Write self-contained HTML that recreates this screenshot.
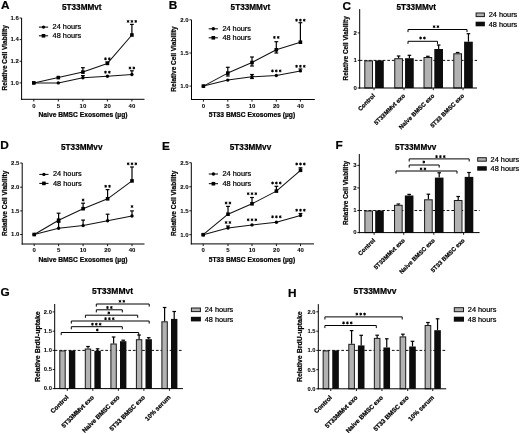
<!DOCTYPE html>
<html><head><meta charset="utf-8"><style>
html,body{margin:0;padding:0;background:#fff;}
svg{display:block;font-family:"Liberation Sans", sans-serif;will-change:transform;filter:blur(0.3px);}
</style></head><body>
<svg width="520" height="434" viewBox="0 0 520 434">
<rect width="520" height="434" fill="#fff"/>
<text x="0.9" y="8.7" font-size="11.8" font-weight="bold" text-anchor="start" fill="#000" stroke="#000" stroke-width="0.22">A</text>
<text x="81.8" y="10.4" font-size="8.2" font-weight="bold" text-anchor="middle" fill="#000" stroke="#000" stroke-width="0.22">5T33MMvt</text>
<line x1="21.6" y1="18.0" x2="21.6" y2="99.8" stroke="#000" stroke-width="1.0"/>
<line x1="21.1" y1="99.3" x2="144.5" y2="99.3" stroke="#000" stroke-width="1.0"/>
<line x1="19.6" y1="18.0" x2="21.6" y2="18.0" stroke="#000" stroke-width="0.9"/>
<text x="18.8" y="19.86" font-size="6.0" font-weight="bold" text-anchor="end" fill="#000" stroke="#000" stroke-width="0.05">1.6</text>
<line x1="19.6" y1="39.6" x2="21.6" y2="39.6" stroke="#000" stroke-width="0.9"/>
<text x="18.8" y="41.46" font-size="6.0" font-weight="bold" text-anchor="end" fill="#000" stroke="#000" stroke-width="0.05">1.4</text>
<line x1="19.6" y1="61.3" x2="21.6" y2="61.3" stroke="#000" stroke-width="0.9"/>
<text x="18.8" y="63.16" font-size="6.0" font-weight="bold" text-anchor="end" fill="#000" stroke="#000" stroke-width="0.05">1.2</text>
<line x1="19.6" y1="82.9" x2="21.6" y2="82.9" stroke="#000" stroke-width="0.9"/>
<text x="18.8" y="84.76" font-size="6.0" font-weight="bold" text-anchor="end" fill="#000" stroke="#000" stroke-width="0.05">1.0</text>
<line x1="33.8" y1="99.3" x2="33.8" y2="101.5" stroke="#000" stroke-width="0.9"/>
<text x="33.8" y="107.5" font-size="6.0" font-weight="bold" text-anchor="middle" fill="#000" stroke="#000" stroke-width="0.05">0</text>
<line x1="58.3" y1="99.3" x2="58.3" y2="101.5" stroke="#000" stroke-width="0.9"/>
<text x="58.3" y="107.5" font-size="6.0" font-weight="bold" text-anchor="middle" fill="#000" stroke="#000" stroke-width="0.05">5</text>
<line x1="82.9" y1="99.3" x2="82.9" y2="101.5" stroke="#000" stroke-width="0.9"/>
<text x="82.9" y="107.5" font-size="6.0" font-weight="bold" text-anchor="middle" fill="#000" stroke="#000" stroke-width="0.05">10</text>
<line x1="107.4" y1="99.3" x2="107.4" y2="101.5" stroke="#000" stroke-width="0.9"/>
<text x="107.4" y="107.5" font-size="6.0" font-weight="bold" text-anchor="middle" fill="#000" stroke="#000" stroke-width="0.05">20</text>
<line x1="131.9" y1="99.3" x2="131.9" y2="101.5" stroke="#000" stroke-width="0.9"/>
<text x="131.9" y="107.5" font-size="6.0" font-weight="bold" text-anchor="middle" fill="#000" stroke="#000" stroke-width="0.05">40</text>
<text x="83.0" y="116.6" font-size="6.7" font-weight="bold" text-anchor="middle" fill="#000" stroke="#000" stroke-width="0.22">Naive BMSC Exosomes (µg)</text>
<text x="6.6" y="57.8" font-size="6.5" font-weight="bold" text-anchor="middle" fill="#000" stroke="#000" stroke-width="0.22" transform="rotate(-90 6.6 57.8)">Relative Cell Viability</text>
<line x1="38.9" y1="27.1" x2="48.1" y2="27.1" stroke="#000" stroke-width="1.0"/>
<circle cx="43.5" cy="27.1" r="1.7" fill="#000"/>
<line x1="38.9" y1="35.8" x2="48.1" y2="35.8" stroke="#000" stroke-width="1.0"/>
<rect x="41.7" y="34.0" width="3.6" height="3.6" fill="#000"/>
<text x="52.6" y="29.1" font-size="7.35" font-weight="normal" text-anchor="start" fill="#000" stroke="#000" stroke-width="0.22">24 hours</text>
<text x="52.6" y="38.0" font-size="7.35" font-weight="normal" text-anchor="start" fill="#000" stroke="#000" stroke-width="0.22">48 hours</text>
<line x1="82.9" y1="72.1" x2="82.9" y2="67.7" stroke="#000" stroke-width="1.2"/>
<line x1="81.0" y1="67.7" x2="84.80000000000001" y2="67.7" stroke="#000" stroke-width="1.2"/>
<line x1="131.9" y1="35.0" x2="131.9" y2="24.4" stroke="#000" stroke-width="1.2"/>
<line x1="130.0" y1="24.4" x2="133.8" y2="24.4" stroke="#000" stroke-width="1.2"/>
<line x1="131.9" y1="74.5" x2="131.9" y2="70.8" stroke="#000" stroke-width="1.2"/>
<line x1="130.0" y1="70.8" x2="133.8" y2="70.8" stroke="#000" stroke-width="1.2"/>
<line x1="82.9" y1="77.8" x2="82.9" y2="75.6" stroke="#000" stroke-width="1.2"/>
<line x1="81.0" y1="75.6" x2="84.80000000000001" y2="75.6" stroke="#000" stroke-width="1.2"/>
<line x1="107.4" y1="63.4" x2="107.4" y2="62.0" stroke="#000" stroke-width="1.2"/>
<line x1="105.5" y1="62.0" x2="109.30000000000001" y2="62.0" stroke="#000" stroke-width="1.2"/>
<polyline points="33.8,82.9 58.3,82.9 82.9,77.8 107.4,76.3 131.9,74.5" fill="none" stroke="#111" stroke-width="1.05" stroke-linejoin="round"/>
<polyline points="33.8,82.9 58.3,77.6 82.9,72.1 107.4,63.4 131.9,35.0" fill="none" stroke="#111" stroke-width="1.05" stroke-linejoin="round"/>
<circle cx="33.8" cy="82.9" r="1.7" fill="#000"/>
<circle cx="58.3" cy="82.9" r="1.7" fill="#000"/>
<circle cx="82.9" cy="77.8" r="1.7" fill="#000"/>
<circle cx="107.4" cy="76.3" r="1.7" fill="#000"/>
<circle cx="131.9" cy="74.5" r="1.7" fill="#000"/>
<rect x="31.999999999999996" y="81.10000000000001" width="3.6" height="3.6" fill="#000"/>
<rect x="56.5" y="75.8" width="3.6" height="3.6" fill="#000"/>
<rect x="81.10000000000001" y="70.3" width="3.6" height="3.6" fill="#000"/>
<rect x="105.60000000000001" y="61.6" width="3.6" height="3.6" fill="#000"/>
<rect x="130.1" y="33.2" width="3.6" height="3.6" fill="#000"/>
<path d="M105.48,57.40L105.48,60.20M104.26,58.10L106.69,59.50M104.26,59.50L106.69,58.10M109.33,57.40L109.33,60.20M108.11,58.10L110.54,59.50M108.11,59.50L110.54,58.10" stroke="#000" stroke-width="1.0" fill="none"/>
<path d="M105.48,70.80L105.48,73.60M104.26,71.50L106.69,72.90M104.26,72.90L106.69,71.50M109.33,70.80L109.33,73.60M108.11,71.50L110.54,72.90M108.11,72.90L110.54,71.50" stroke="#000" stroke-width="1.0" fill="none"/>
<path d="M128.05,20.00L128.05,22.80M126.84,20.70L129.26,22.10M126.84,22.10L129.26,20.70M131.90,20.00L131.90,22.80M130.69,20.70L133.11,22.10M130.69,22.10L133.11,20.70M135.75,20.00L135.75,22.80M134.54,20.70L136.96,22.10M134.54,22.10L136.96,20.70" stroke="#000" stroke-width="1.0" fill="none"/>
<path d="M129.97,66.60L129.97,69.40M128.76,67.30L131.19,68.70M128.76,68.70L131.19,67.30M133.82,66.60L133.82,69.40M132.61,67.30L135.04,68.70M132.61,68.70L135.04,67.30" stroke="#000" stroke-width="1.0" fill="none"/>
<text x="168.8" y="9.0" font-size="11.8" font-weight="bold" text-anchor="start" fill="#000" stroke="#000" stroke-width="0.22">B</text>
<text x="250.4" y="10.0" font-size="8.2" font-weight="bold" text-anchor="middle" fill="#000" stroke="#000" stroke-width="0.22">5T33MMvt</text>
<line x1="191.5" y1="19.8" x2="191.5" y2="100.0" stroke="#000" stroke-width="1.0"/>
<line x1="191.0" y1="99.5" x2="314.8" y2="99.5" stroke="#000" stroke-width="1.0"/>
<line x1="189.5" y1="19.8" x2="191.5" y2="19.8" stroke="#000" stroke-width="0.9"/>
<text x="188.7" y="21.66" font-size="6.0" font-weight="bold" text-anchor="end" fill="#000" stroke="#000" stroke-width="0.05">2.0</text>
<line x1="189.5" y1="53.0" x2="191.5" y2="53.0" stroke="#000" stroke-width="0.9"/>
<text x="188.7" y="54.86" font-size="6.0" font-weight="bold" text-anchor="end" fill="#000" stroke="#000" stroke-width="0.05">1.5</text>
<line x1="189.5" y1="86.1" x2="191.5" y2="86.1" stroke="#000" stroke-width="0.9"/>
<text x="188.7" y="87.96" font-size="6.0" font-weight="bold" text-anchor="end" fill="#000" stroke="#000" stroke-width="0.05">1.0</text>
<line x1="203.4" y1="99.5" x2="203.4" y2="101.7" stroke="#000" stroke-width="0.9"/>
<text x="203.4" y="107.7" font-size="6.0" font-weight="bold" text-anchor="middle" fill="#000" stroke="#000" stroke-width="0.05">0</text>
<line x1="227.8" y1="99.5" x2="227.8" y2="101.7" stroke="#000" stroke-width="0.9"/>
<text x="227.8" y="107.7" font-size="6.0" font-weight="bold" text-anchor="middle" fill="#000" stroke="#000" stroke-width="0.05">5</text>
<line x1="252.0" y1="99.5" x2="252.0" y2="101.7" stroke="#000" stroke-width="0.9"/>
<text x="252.0" y="107.7" font-size="6.0" font-weight="bold" text-anchor="middle" fill="#000" stroke="#000" stroke-width="0.05">10</text>
<line x1="276.3" y1="99.5" x2="276.3" y2="101.7" stroke="#000" stroke-width="0.9"/>
<text x="276.3" y="107.7" font-size="6.0" font-weight="bold" text-anchor="middle" fill="#000" stroke="#000" stroke-width="0.05">20</text>
<line x1="300.4" y1="99.5" x2="300.4" y2="101.7" stroke="#000" stroke-width="0.9"/>
<text x="300.4" y="107.7" font-size="6.0" font-weight="bold" text-anchor="middle" fill="#000" stroke="#000" stroke-width="0.05">40</text>
<text x="252.0" y="116.8" font-size="6.7" font-weight="bold" text-anchor="middle" fill="#000" stroke="#000" stroke-width="0.22">5T33 BMSC Exosomes (µg)</text>
<text x="176.1" y="59.0" font-size="6.5" font-weight="bold" text-anchor="middle" fill="#000" stroke="#000" stroke-width="0.22" transform="rotate(-90 176.1 59.0)">Relative Cell Viability</text>
<line x1="208.70000000000002" y1="28.8" x2="217.9" y2="28.8" stroke="#000" stroke-width="1.0"/>
<circle cx="213.3" cy="28.8" r="1.7" fill="#000"/>
<line x1="208.70000000000002" y1="37.8" x2="217.9" y2="37.8" stroke="#000" stroke-width="1.0"/>
<rect x="211.5" y="36.0" width="3.6" height="3.6" fill="#000"/>
<text x="222.4" y="30.8" font-size="7.35" font-weight="normal" text-anchor="start" fill="#000" stroke="#000" stroke-width="0.22">24 hours</text>
<text x="222.4" y="40.0" font-size="7.35" font-weight="normal" text-anchor="start" fill="#000" stroke="#000" stroke-width="0.22">48 hours</text>
<line x1="227.8" y1="76.0" x2="227.8" y2="67.3" stroke="#000" stroke-width="1.2"/>
<line x1="225.9" y1="67.3" x2="229.70000000000002" y2="67.3" stroke="#000" stroke-width="1.2"/>
<line x1="225.9" y1="76.0" x2="229.70000000000002" y2="76.0" stroke="#000" stroke-width="1.2"/>
<line x1="252.0" y1="66.0" x2="252.0" y2="57.0" stroke="#000" stroke-width="1.2"/>
<line x1="250.1" y1="57.0" x2="253.9" y2="57.0" stroke="#000" stroke-width="1.2"/>
<line x1="250.1" y1="66.0" x2="253.9" y2="66.0" stroke="#000" stroke-width="1.2"/>
<line x1="276.3" y1="53.0" x2="276.3" y2="41.7" stroke="#000" stroke-width="1.2"/>
<line x1="274.40000000000003" y1="41.7" x2="278.2" y2="41.7" stroke="#000" stroke-width="1.2"/>
<line x1="274.40000000000003" y1="53.0" x2="278.2" y2="53.0" stroke="#000" stroke-width="1.2"/>
<line x1="300.4" y1="42.2" x2="300.4" y2="22.7" stroke="#000" stroke-width="1.2"/>
<line x1="298.5" y1="22.7" x2="302.29999999999995" y2="22.7" stroke="#000" stroke-width="1.2"/>
<line x1="252.0" y1="78.5" x2="252.0" y2="74.5" stroke="#000" stroke-width="1.2"/>
<line x1="250.1" y1="74.5" x2="253.9" y2="74.5" stroke="#000" stroke-width="1.2"/>
<line x1="250.1" y1="78.5" x2="253.9" y2="78.5" stroke="#000" stroke-width="1.2"/>
<line x1="300.4" y1="70.9" x2="300.4" y2="69.0" stroke="#000" stroke-width="1.2"/>
<line x1="298.5" y1="69.0" x2="302.29999999999995" y2="69.0" stroke="#000" stroke-width="1.2"/>
<polyline points="203.4,86.1 227.8,80.1 252.0,76.8 276.3,75.5 300.4,70.9" fill="none" stroke="#111" stroke-width="1.05" stroke-linejoin="round"/>
<polyline points="203.4,86.1 227.8,73.1 252.0,62.5 276.3,49.8 300.4,42.2" fill="none" stroke="#111" stroke-width="1.05" stroke-linejoin="round"/>
<circle cx="203.4" cy="86.1" r="1.7" fill="#000"/>
<circle cx="227.8" cy="80.1" r="1.7" fill="#000"/>
<circle cx="252.0" cy="76.8" r="1.7" fill="#000"/>
<circle cx="276.3" cy="75.5" r="1.7" fill="#000"/>
<circle cx="300.4" cy="70.9" r="1.7" fill="#000"/>
<rect x="201.6" y="84.3" width="3.6" height="3.6" fill="#000"/>
<rect x="226.0" y="71.3" width="3.6" height="3.6" fill="#000"/>
<rect x="250.2" y="60.7" width="3.6" height="3.6" fill="#000"/>
<rect x="274.5" y="48.0" width="3.6" height="3.6" fill="#000"/>
<rect x="298.59999999999997" y="40.400000000000006" width="3.6" height="3.6" fill="#000"/>
<path d="M274.38,36.00L274.38,38.80M273.16,36.70L275.59,38.10M273.16,38.10L275.59,36.70M278.23,36.00L278.23,38.80M277.01,36.70L279.44,38.10M277.01,38.10L279.44,36.70" stroke="#000" stroke-width="1.0" fill="none"/>
<path d="M296.55,18.80L296.55,21.60M295.34,19.50L297.76,20.90M295.34,20.90L297.76,19.50M300.40,18.80L300.40,21.60M299.19,19.50L301.61,20.90M299.19,20.90L301.61,19.50M304.25,18.80L304.25,21.60M303.04,19.50L305.46,20.90M303.04,20.90L305.46,19.50" stroke="#000" stroke-width="1.0" fill="none"/>
<path d="M272.45,69.50L272.45,72.30M271.24,70.20L273.66,71.60M271.24,71.60L273.66,70.20M276.30,69.50L276.30,72.30M275.09,70.20L277.51,71.60M275.09,71.60L277.51,70.20M280.15,69.50L280.15,72.30M278.94,70.20L281.36,71.60M278.94,71.60L281.36,70.20" stroke="#000" stroke-width="1.0" fill="none"/>
<path d="M296.55,64.90L296.55,67.70M295.34,65.60L297.76,67.00M295.34,67.00L297.76,65.60M300.40,64.90L300.40,67.70M299.19,65.60L301.61,67.00M299.19,67.00L301.61,65.60M304.25,64.90L304.25,67.70M303.04,65.60L305.46,67.00M303.04,67.00L305.46,65.60" stroke="#000" stroke-width="1.0" fill="none"/>
<text x="0.2" y="149.4" font-size="11.8" font-weight="bold" text-anchor="start" fill="#000" stroke="#000" stroke-width="0.22">D</text>
<text x="81.75" y="149.9" font-size="8.2" font-weight="bold" text-anchor="middle" fill="#000" stroke="#000" stroke-width="0.22">5T33MMvv</text>
<line x1="22.2" y1="163.0" x2="22.2" y2="244.5" stroke="#000" stroke-width="1.0"/>
<line x1="21.7" y1="244.0" x2="144.5" y2="244.0" stroke="#000" stroke-width="1.0"/>
<line x1="20.2" y1="163.0" x2="22.2" y2="163.0" stroke="#000" stroke-width="0.9"/>
<text x="19.4" y="164.86" font-size="6.0" font-weight="bold" text-anchor="end" fill="#000" stroke="#000" stroke-width="0.05">2.5</text>
<line x1="20.2" y1="187.2" x2="22.2" y2="187.2" stroke="#000" stroke-width="0.9"/>
<text x="19.4" y="189.06" font-size="6.0" font-weight="bold" text-anchor="end" fill="#000" stroke="#000" stroke-width="0.05">2.0</text>
<line x1="20.2" y1="210.9" x2="22.2" y2="210.9" stroke="#000" stroke-width="0.9"/>
<text x="19.4" y="212.76" font-size="6.0" font-weight="bold" text-anchor="end" fill="#000" stroke="#000" stroke-width="0.05">1.5</text>
<line x1="20.2" y1="234.5" x2="22.2" y2="234.5" stroke="#000" stroke-width="0.9"/>
<text x="19.4" y="236.36" font-size="6.0" font-weight="bold" text-anchor="end" fill="#000" stroke="#000" stroke-width="0.05">1.0</text>
<line x1="34.2" y1="244.0" x2="34.2" y2="246.2" stroke="#000" stroke-width="0.9"/>
<text x="34.2" y="252.2" font-size="6.0" font-weight="bold" text-anchor="middle" fill="#000" stroke="#000" stroke-width="0.05">0</text>
<line x1="58.6" y1="244.0" x2="58.6" y2="246.2" stroke="#000" stroke-width="0.9"/>
<text x="58.6" y="252.2" font-size="6.0" font-weight="bold" text-anchor="middle" fill="#000" stroke="#000" stroke-width="0.05">5</text>
<line x1="83.1" y1="244.0" x2="83.1" y2="246.2" stroke="#000" stroke-width="0.9"/>
<text x="83.1" y="252.2" font-size="6.0" font-weight="bold" text-anchor="middle" fill="#000" stroke="#000" stroke-width="0.05">10</text>
<line x1="107.6" y1="244.0" x2="107.6" y2="246.2" stroke="#000" stroke-width="0.9"/>
<text x="107.6" y="252.2" font-size="6.0" font-weight="bold" text-anchor="middle" fill="#000" stroke="#000" stroke-width="0.05">20</text>
<line x1="132.0" y1="244.0" x2="132.0" y2="246.2" stroke="#000" stroke-width="0.9"/>
<text x="132.0" y="252.2" font-size="6.0" font-weight="bold" text-anchor="middle" fill="#000" stroke="#000" stroke-width="0.05">40</text>
<text x="83.0" y="261.5" font-size="6.7" font-weight="bold" text-anchor="middle" fill="#000" stroke="#000" stroke-width="0.22">Naive BMSC Exosomes (µg)</text>
<text x="6.8" y="203.4" font-size="6.5" font-weight="bold" text-anchor="middle" fill="#000" stroke="#000" stroke-width="0.22" transform="rotate(-90 6.8 203.4)">Relative Cell Viability</text>
<line x1="39.3" y1="174.4" x2="48.5" y2="174.4" stroke="#000" stroke-width="1.0"/>
<circle cx="43.9" cy="174.4" r="1.7" fill="#000"/>
<line x1="39.3" y1="183.4" x2="48.5" y2="183.4" stroke="#000" stroke-width="1.0"/>
<rect x="42.1" y="181.6" width="3.6" height="3.6" fill="#000"/>
<text x="53.0" y="176.4" font-size="7.35" font-weight="normal" text-anchor="start" fill="#000" stroke="#000" stroke-width="0.22">24 hours</text>
<text x="53.0" y="185.6" font-size="7.35" font-weight="normal" text-anchor="start" fill="#000" stroke="#000" stroke-width="0.22">48 hours</text>
<line x1="58.6" y1="220.2" x2="58.6" y2="213.2" stroke="#000" stroke-width="1.2"/>
<line x1="56.7" y1="213.2" x2="60.5" y2="213.2" stroke="#000" stroke-width="1.2"/>
<line x1="83.1" y1="208.7" x2="83.1" y2="203.2" stroke="#000" stroke-width="1.2"/>
<line x1="81.19999999999999" y1="203.2" x2="85.0" y2="203.2" stroke="#000" stroke-width="1.2"/>
<line x1="107.6" y1="198.8" x2="107.6" y2="189.6" stroke="#000" stroke-width="1.2"/>
<line x1="105.69999999999999" y1="189.6" x2="109.5" y2="189.6" stroke="#000" stroke-width="1.2"/>
<line x1="132.0" y1="180.9" x2="132.0" y2="167.0" stroke="#000" stroke-width="1.2"/>
<line x1="130.1" y1="167.0" x2="133.9" y2="167.0" stroke="#000" stroke-width="1.2"/>
<line x1="58.6" y1="228.2" x2="58.6" y2="222.3" stroke="#000" stroke-width="1.2"/>
<line x1="56.7" y1="222.3" x2="60.5" y2="222.3" stroke="#000" stroke-width="1.2"/>
<line x1="83.1" y1="225.6" x2="83.1" y2="220.1" stroke="#000" stroke-width="1.2"/>
<line x1="81.19999999999999" y1="220.1" x2="85.0" y2="220.1" stroke="#000" stroke-width="1.2"/>
<line x1="107.6" y1="220.8" x2="107.6" y2="214.2" stroke="#000" stroke-width="1.2"/>
<line x1="105.69999999999999" y1="214.2" x2="109.5" y2="214.2" stroke="#000" stroke-width="1.2"/>
<line x1="132.0" y1="216.0" x2="132.0" y2="210.9" stroke="#000" stroke-width="1.2"/>
<line x1="130.1" y1="210.9" x2="133.9" y2="210.9" stroke="#000" stroke-width="1.2"/>
<polyline points="34.2,234.5 58.6,228.2 83.1,225.6 107.6,220.8 132.0,216.0" fill="none" stroke="#111" stroke-width="1.05" stroke-linejoin="round"/>
<polyline points="34.2,234.5 58.6,220.2 83.1,208.7 107.6,198.8 132.0,180.9" fill="none" stroke="#111" stroke-width="1.05" stroke-linejoin="round"/>
<circle cx="34.2" cy="234.5" r="1.7" fill="#000"/>
<circle cx="58.6" cy="228.2" r="1.7" fill="#000"/>
<circle cx="83.1" cy="225.6" r="1.7" fill="#000"/>
<circle cx="107.6" cy="220.8" r="1.7" fill="#000"/>
<circle cx="132.0" cy="216.0" r="1.7" fill="#000"/>
<rect x="32.400000000000006" y="232.7" width="3.6" height="3.6" fill="#000"/>
<rect x="56.800000000000004" y="218.39999999999998" width="3.6" height="3.6" fill="#000"/>
<rect x="81.3" y="206.89999999999998" width="3.6" height="3.6" fill="#000"/>
<rect x="105.8" y="197.0" width="3.6" height="3.6" fill="#000"/>
<rect x="130.2" y="179.1" width="3.6" height="3.6" fill="#000"/>
<path d="M83.10,198.60L83.10,201.40M81.89,199.30L84.31,200.70M81.89,200.70L84.31,199.30" stroke="#000" stroke-width="1.0" fill="none"/>
<path d="M105.67,184.90L105.67,187.70M104.46,185.60L106.89,187.00M104.46,187.00L106.89,185.60M109.52,184.90L109.52,187.70M108.31,185.60L110.74,187.00M108.31,187.00L110.74,185.60" stroke="#000" stroke-width="1.0" fill="none"/>
<path d="M128.15,162.40L128.15,165.20M126.94,163.10L129.36,164.50M126.94,164.50L129.36,163.10M132.00,162.40L132.00,165.20M130.79,163.10L133.21,164.50M130.79,164.50L133.21,163.10M135.85,162.40L135.85,165.20M134.64,163.10L137.06,164.50M134.64,164.50L137.06,163.10" stroke="#000" stroke-width="1.0" fill="none"/>
<path d="M132.00,205.10L132.00,207.90M130.79,205.80L133.21,207.20M130.79,207.20L133.21,205.80" stroke="#000" stroke-width="1.0" fill="none"/>
<text x="162.1" y="149.8" font-size="11.8" font-weight="bold" text-anchor="start" fill="#000" stroke="#000" stroke-width="0.22">E</text>
<text x="250.5" y="149.9" font-size="8.2" font-weight="bold" text-anchor="middle" fill="#000" stroke="#000" stroke-width="0.22">5T33MMvv</text>
<line x1="191.3" y1="162.7" x2="191.3" y2="244.4" stroke="#000" stroke-width="1.0"/>
<line x1="190.8" y1="243.9" x2="314.0" y2="243.9" stroke="#000" stroke-width="1.0"/>
<line x1="189.3" y1="162.7" x2="191.3" y2="162.7" stroke="#000" stroke-width="0.9"/>
<text x="188.5" y="164.56" font-size="6.0" font-weight="bold" text-anchor="end" fill="#000" stroke="#000" stroke-width="0.05">2.5</text>
<line x1="189.3" y1="186.8" x2="191.3" y2="186.8" stroke="#000" stroke-width="0.9"/>
<text x="188.5" y="188.66" font-size="6.0" font-weight="bold" text-anchor="end" fill="#000" stroke="#000" stroke-width="0.05">2.0</text>
<line x1="189.3" y1="210.8" x2="191.3" y2="210.8" stroke="#000" stroke-width="0.9"/>
<text x="188.5" y="212.66" font-size="6.0" font-weight="bold" text-anchor="end" fill="#000" stroke="#000" stroke-width="0.05">1.5</text>
<line x1="189.3" y1="234.7" x2="191.3" y2="234.7" stroke="#000" stroke-width="0.9"/>
<text x="188.5" y="236.56" font-size="6.0" font-weight="bold" text-anchor="end" fill="#000" stroke="#000" stroke-width="0.05">1.0</text>
<line x1="203.2" y1="243.9" x2="203.2" y2="246.1" stroke="#000" stroke-width="0.9"/>
<text x="203.2" y="252.2" font-size="6.0" font-weight="bold" text-anchor="middle" fill="#000" stroke="#000" stroke-width="0.05">0</text>
<line x1="228.0" y1="243.9" x2="228.0" y2="246.1" stroke="#000" stroke-width="0.9"/>
<text x="228.0" y="252.2" font-size="6.0" font-weight="bold" text-anchor="middle" fill="#000" stroke="#000" stroke-width="0.05">5</text>
<line x1="252.0" y1="243.9" x2="252.0" y2="246.1" stroke="#000" stroke-width="0.9"/>
<text x="252.0" y="252.2" font-size="6.0" font-weight="bold" text-anchor="middle" fill="#000" stroke="#000" stroke-width="0.05">10</text>
<line x1="276.4" y1="243.9" x2="276.4" y2="246.1" stroke="#000" stroke-width="0.9"/>
<text x="276.4" y="252.2" font-size="6.0" font-weight="bold" text-anchor="middle" fill="#000" stroke="#000" stroke-width="0.05">20</text>
<line x1="300.5" y1="243.9" x2="300.5" y2="246.1" stroke="#000" stroke-width="0.9"/>
<text x="300.5" y="252.2" font-size="6.0" font-weight="bold" text-anchor="middle" fill="#000" stroke="#000" stroke-width="0.05">40</text>
<text x="252.0" y="261.5" font-size="6.7" font-weight="bold" text-anchor="middle" fill="#000" stroke="#000" stroke-width="0.22">5T33 BMSC Exosomes (µg)</text>
<text x="176.0" y="203.3" font-size="6.5" font-weight="bold" text-anchor="middle" fill="#000" stroke="#000" stroke-width="0.22" transform="rotate(-90 176.0 203.3)">Relative Cell Viability</text>
<line x1="208.8" y1="174.0" x2="218.0" y2="174.0" stroke="#000" stroke-width="1.0"/>
<circle cx="213.4" cy="174.0" r="1.7" fill="#000"/>
<line x1="208.8" y1="183.7" x2="218.0" y2="183.7" stroke="#000" stroke-width="1.0"/>
<rect x="211.6" y="181.89999999999998" width="3.6" height="3.6" fill="#000"/>
<text x="222.5" y="176.0" font-size="7.35" font-weight="normal" text-anchor="start" fill="#000" stroke="#000" stroke-width="0.22">24 hours</text>
<text x="222.5" y="185.89999999999998" font-size="7.35" font-weight="normal" text-anchor="start" fill="#000" stroke="#000" stroke-width="0.22">48 hours</text>
<line x1="228.0" y1="214.2" x2="228.0" y2="206.4" stroke="#000" stroke-width="1.2"/>
<line x1="226.1" y1="206.4" x2="229.9" y2="206.4" stroke="#000" stroke-width="1.2"/>
<line x1="252.0" y1="203.8" x2="252.0" y2="197.5" stroke="#000" stroke-width="1.2"/>
<line x1="250.1" y1="197.5" x2="253.9" y2="197.5" stroke="#000" stroke-width="1.2"/>
<line x1="276.4" y1="191.1" x2="276.4" y2="186.3" stroke="#000" stroke-width="1.2"/>
<line x1="274.5" y1="186.3" x2="278.29999999999995" y2="186.3" stroke="#000" stroke-width="1.2"/>
<line x1="300.5" y1="170.3" x2="300.5" y2="167.8" stroke="#000" stroke-width="1.2"/>
<line x1="298.6" y1="167.8" x2="302.4" y2="167.8" stroke="#000" stroke-width="1.2"/>
<line x1="228.0" y1="228.0" x2="228.0" y2="226.0" stroke="#000" stroke-width="1.2"/>
<line x1="226.1" y1="226.0" x2="229.9" y2="226.0" stroke="#000" stroke-width="1.2"/>
<line x1="300.5" y1="215.5" x2="300.5" y2="213.5" stroke="#000" stroke-width="1.2"/>
<line x1="298.6" y1="213.5" x2="302.4" y2="213.5" stroke="#000" stroke-width="1.2"/>
<polyline points="203.2,234.7 228.0,228.0 252.0,224.9 276.4,222.3 300.5,215.5" fill="none" stroke="#111" stroke-width="1.05" stroke-linejoin="round"/>
<polyline points="203.2,234.7 228.0,214.2 252.0,203.8 276.4,191.1 300.5,170.3" fill="none" stroke="#111" stroke-width="1.05" stroke-linejoin="round"/>
<circle cx="203.2" cy="234.7" r="1.7" fill="#000"/>
<circle cx="228.0" cy="228.0" r="1.7" fill="#000"/>
<circle cx="252.0" cy="224.9" r="1.7" fill="#000"/>
<circle cx="276.4" cy="222.3" r="1.7" fill="#000"/>
<circle cx="300.5" cy="215.5" r="1.7" fill="#000"/>
<rect x="201.39999999999998" y="232.89999999999998" width="3.6" height="3.6" fill="#000"/>
<rect x="226.2" y="212.39999999999998" width="3.6" height="3.6" fill="#000"/>
<rect x="250.2" y="202.0" width="3.6" height="3.6" fill="#000"/>
<rect x="274.59999999999997" y="189.29999999999998" width="3.6" height="3.6" fill="#000"/>
<rect x="298.7" y="168.5" width="3.6" height="3.6" fill="#000"/>
<path d="M226.07,201.60L226.07,204.40M224.86,202.30L227.29,203.70M224.86,203.70L227.29,202.30M229.92,201.60L229.92,204.40M228.71,202.30L231.14,203.70M228.71,203.70L231.14,202.30" stroke="#000" stroke-width="1.0" fill="none"/>
<path d="M226.07,221.10L226.07,223.90M224.86,221.80L227.29,223.20M224.86,223.20L227.29,221.80M229.92,221.10L229.92,223.90M228.71,221.80L231.14,223.20M228.71,223.20L231.14,221.80" stroke="#000" stroke-width="1.0" fill="none"/>
<path d="M248.15,192.30L248.15,195.10M246.94,193.00L249.36,194.40M246.94,194.40L249.36,193.00M252.00,192.30L252.00,195.10M250.79,193.00L253.21,194.40M250.79,194.40L253.21,193.00M255.85,192.30L255.85,195.10M254.64,193.00L257.06,194.40M254.64,194.40L257.06,193.00" stroke="#000" stroke-width="1.0" fill="none"/>
<path d="M248.15,218.40L248.15,221.20M246.94,219.10L249.36,220.50M246.94,220.50L249.36,219.10M252.00,218.40L252.00,221.20M250.79,219.10L253.21,220.50M250.79,220.50L253.21,219.10M255.85,218.40L255.85,221.20M254.64,219.10L257.06,220.50M254.64,220.50L257.06,219.10" stroke="#000" stroke-width="1.0" fill="none"/>
<path d="M272.55,181.60L272.55,184.40M271.34,182.30L273.76,183.70M271.34,183.70L273.76,182.30M276.40,181.60L276.40,184.40M275.19,182.30L277.61,183.70M275.19,183.70L277.61,182.30M280.25,181.60L280.25,184.40M279.04,182.30L281.46,183.70M279.04,183.70L281.46,182.30" stroke="#000" stroke-width="1.0" fill="none"/>
<path d="M272.55,215.40L272.55,218.20M271.34,216.10L273.76,217.50M271.34,217.50L273.76,216.10M276.40,215.40L276.40,218.20M275.19,216.10L277.61,217.50M275.19,217.50L277.61,216.10M280.25,215.40L280.25,218.20M279.04,216.10L281.46,217.50M279.04,217.50L281.46,216.10" stroke="#000" stroke-width="1.0" fill="none"/>
<path d="M296.65,162.60L296.65,165.40M295.44,163.30L297.86,164.70M295.44,164.70L297.86,163.30M300.50,162.60L300.50,165.40M299.29,163.30L301.71,164.70M299.29,164.70L301.71,163.30M304.35,162.60L304.35,165.40M303.14,163.30L305.56,164.70M303.14,164.70L305.56,163.30" stroke="#000" stroke-width="1.0" fill="none"/>
<path d="M296.65,208.80L296.65,211.60M295.44,209.50L297.86,210.90M295.44,210.90L297.86,209.50M300.50,208.80L300.50,211.60M299.29,209.50L301.71,210.90M299.29,210.90L301.71,209.50M304.35,208.80L304.35,211.60M303.14,209.50L305.56,210.90M303.14,210.90L305.56,209.50" stroke="#000" stroke-width="1.0" fill="none"/>
<text x="342.4" y="9.5" font-size="11.8" font-weight="bold" text-anchor="start" fill="#000" stroke="#000" stroke-width="0.22">C</text>
<text x="416.3" y="10.4" font-size="8.2" font-weight="bold" text-anchor="middle" fill="#000" stroke="#000" stroke-width="0.22">5T33MMvt</text>
<line x1="359.7" y1="60.4" x2="477.0" y2="60.4" stroke="#111" stroke-width="1.0" stroke-dasharray="2.7,1.9"/>
<rect x="364.8" y="60.9" width="7.699999999999989" height="27.1" fill="#b2b2b2" stroke="#1a1a1a" stroke-width="1"/>
<rect x="375.1" y="60.4" width="8.699999999999989" height="27.6" fill="#0d0d0d"/>
<line x1="398.59999999999997" y1="58.2" x2="398.59999999999997" y2="56.0" stroke="#000" stroke-width="1.2"/>
<line x1="396.79999999999995" y1="56.0" x2="400.4" y2="56.0" stroke="#000" stroke-width="1.2"/>
<line x1="409.40000000000003" y1="58.2" x2="409.40000000000003" y2="55.3" stroke="#000" stroke-width="1.2"/>
<line x1="407.6" y1="55.3" x2="411.20000000000005" y2="55.3" stroke="#000" stroke-width="1.2"/>
<rect x="394.75" y="58.7" width="7.699999999999989" height="29.299999999999997" fill="#b2b2b2" stroke="#1a1a1a" stroke-width="1"/>
<rect x="405.05" y="58.2" width="8.699999999999989" height="29.799999999999997" fill="#0d0d0d"/>
<line x1="427.84999999999997" y1="57.0" x2="427.84999999999997" y2="56.3" stroke="#000" stroke-width="1.2"/>
<line x1="426.04999999999995" y1="56.3" x2="429.65" y2="56.3" stroke="#000" stroke-width="1.2"/>
<line x1="438.65000000000003" y1="49.0" x2="438.65000000000003" y2="45.0" stroke="#000" stroke-width="1.2"/>
<line x1="436.85" y1="45.0" x2="440.45000000000005" y2="45.0" stroke="#000" stroke-width="1.2"/>
<rect x="424.0" y="57.5" width="7.699999999999989" height="30.5" fill="#b2b2b2" stroke="#1a1a1a" stroke-width="1"/>
<rect x="434.3" y="49.0" width="8.699999999999989" height="39.0" fill="#0d0d0d"/>
<line x1="457.65" y1="53.3" x2="457.65" y2="52.5" stroke="#000" stroke-width="1.2"/>
<line x1="455.84999999999997" y1="52.5" x2="459.45" y2="52.5" stroke="#000" stroke-width="1.2"/>
<line x1="468.45000000000005" y1="41.7" x2="468.45000000000005" y2="33.7" stroke="#000" stroke-width="1.2"/>
<line x1="466.65000000000003" y1="33.7" x2="470.25000000000006" y2="33.7" stroke="#000" stroke-width="1.2"/>
<rect x="453.8" y="53.8" width="7.699999999999989" height="34.2" fill="#b2b2b2" stroke="#1a1a1a" stroke-width="1"/>
<rect x="464.1" y="41.7" width="8.699999999999989" height="46.3" fill="#0d0d0d"/>
<line x1="359.7" y1="9.1" x2="359.7" y2="88.5" stroke="#000" stroke-width="1.0"/>
<line x1="359.2" y1="88.0" x2="477.0" y2="88.0" stroke="#000" stroke-width="1.0"/>
<line x1="357.7" y1="88.0" x2="359.7" y2="88.0" stroke="#000" stroke-width="0.9"/>
<text x="356.9" y="89.86" font-size="6.0" font-weight="bold" text-anchor="end" fill="#000" stroke="#000" stroke-width="0.05">0</text>
<line x1="357.7" y1="60.4" x2="359.7" y2="60.4" stroke="#000" stroke-width="0.9"/>
<text x="356.9" y="62.26" font-size="6.0" font-weight="bold" text-anchor="end" fill="#000" stroke="#000" stroke-width="0.05">1</text>
<line x1="357.7" y1="32.9" x2="359.7" y2="32.9" stroke="#000" stroke-width="0.9"/>
<text x="356.9" y="34.76" font-size="6.0" font-weight="bold" text-anchor="end" fill="#000" stroke="#000" stroke-width="0.05">2</text>
<line x1="374.05" y1="88.0" x2="374.05" y2="90.2" stroke="#000" stroke-width="0.9"/>
<line x1="404.0" y1="88.0" x2="404.0" y2="90.2" stroke="#000" stroke-width="0.9"/>
<line x1="433.25" y1="88.0" x2="433.25" y2="90.2" stroke="#000" stroke-width="0.9"/>
<line x1="463.05" y1="88.0" x2="463.05" y2="90.2" stroke="#000" stroke-width="0.9"/>
<text x="375.55" y="96.2" font-size="6.0" font-weight="bold" text-anchor="end" fill="#000" stroke="#000" stroke-width="0.22" transform="rotate(-45 375.55 96.2)">Control</text>
<text x="405.5" y="96.2" font-size="6.0" font-weight="bold" text-anchor="end" fill="#000" stroke="#000" stroke-width="0.22" transform="rotate(-45 405.5 96.2)">5T33MMvt exo</text>
<text x="434.75" y="96.2" font-size="6.0" font-weight="bold" text-anchor="end" fill="#000" stroke="#000" stroke-width="0.22" transform="rotate(-45 434.75 96.2)">Naive BMSC exo</text>
<text x="464.55" y="96.2" font-size="6.0" font-weight="bold" text-anchor="end" fill="#000" stroke="#000" stroke-width="0.22" transform="rotate(-45 464.55 96.2)">5T33 BMSC exo</text>
<text x="348.0" y="48.3" font-size="6.4" font-weight="bold" text-anchor="middle" fill="#000" stroke="#000" stroke-width="0.22" transform="rotate(-90 348.0 48.3)">Relative Cell Viability</text>
<polyline points="408.0,43.9 408.0,41.3 437.5,41.3 437.5,43.9" fill="none" stroke="#000" stroke-width="1"/>
<path d="M420.57,36.60L420.57,39.40M419.36,37.30L421.79,38.70M419.36,38.70L421.79,37.30M424.43,36.60L424.43,39.40M423.21,37.30L425.64,38.70M423.21,38.70L425.64,37.30" stroke="#000" stroke-width="1.0" fill="none"/>
<polyline points="408.0,32.1 408.0,29.5 467.0,29.5 467.0,32.1" fill="none" stroke="#000" stroke-width="1"/>
<path d="M434.07,25.30L434.07,28.10M432.86,26.00L435.29,27.40M432.86,27.40L435.29,26.00M437.93,25.30L437.93,28.10M436.71,26.00L439.14,27.40M436.71,27.40L439.14,26.00" stroke="#000" stroke-width="1.0" fill="none"/>
<rect x="476.1" y="13.0" width="8.3" height="3.5999999999999996" fill="#b2b2b2" stroke="#1a1a1a" stroke-width="1"/>
<rect x="475.6" y="21.7" width="9.3" height="4.6" fill="#0d0d0d"/>
<text x="488.70000000000005" y="17.3" font-size="7.35" font-weight="normal" text-anchor="start" fill="#000" stroke="#000" stroke-width="0.22">24 hours</text>
<text x="488.70000000000005" y="26.499999999999996" font-size="7.35" font-weight="normal" text-anchor="start" fill="#000" stroke="#000" stroke-width="0.22">48 hours</text>
<text x="335.4" y="149.4" font-size="11.8" font-weight="bold" text-anchor="start" fill="#000" stroke="#000" stroke-width="0.22">F</text>
<text x="415.65" y="149.9" font-size="8.2" font-weight="bold" text-anchor="middle" fill="#000" stroke="#000" stroke-width="0.22">5T33MMvv</text>
<line x1="359.3" y1="210.5" x2="479.6" y2="210.5" stroke="#111" stroke-width="1.0" stroke-dasharray="2.7,1.9"/>
<rect x="364.9" y="211.0" width="7.600000000000023" height="21.599999999999994" fill="#b2b2b2" stroke="#1a1a1a" stroke-width="1"/>
<rect x="375.20000000000005" y="210.5" width="8.600000000000023" height="22.099999999999994" fill="#0d0d0d"/>
<line x1="398.34999999999997" y1="204.8" x2="398.34999999999997" y2="204.0" stroke="#000" stroke-width="1.2"/>
<line x1="396.54999999999995" y1="204.0" x2="400.15" y2="204.0" stroke="#000" stroke-width="1.2"/>
<line x1="409.15000000000003" y1="195.5" x2="409.15000000000003" y2="194.4" stroke="#000" stroke-width="1.2"/>
<line x1="407.35" y1="194.4" x2="410.95000000000005" y2="194.4" stroke="#000" stroke-width="1.2"/>
<rect x="394.54999999999995" y="205.3" width="7.600000000000023" height="27.299999999999983" fill="#b2b2b2" stroke="#1a1a1a" stroke-width="1"/>
<rect x="404.85" y="195.5" width="8.600000000000023" height="37.099999999999994" fill="#0d0d0d"/>
<line x1="428.4" y1="199.3" x2="428.4" y2="194.2" stroke="#000" stroke-width="1.2"/>
<line x1="426.59999999999997" y1="194.2" x2="430.2" y2="194.2" stroke="#000" stroke-width="1.2"/>
<line x1="439.20000000000005" y1="177.6" x2="439.20000000000005" y2="172.8" stroke="#000" stroke-width="1.2"/>
<line x1="437.40000000000003" y1="172.8" x2="441.00000000000006" y2="172.8" stroke="#000" stroke-width="1.2"/>
<rect x="424.59999999999997" y="199.8" width="7.600000000000023" height="32.79999999999998" fill="#b2b2b2" stroke="#1a1a1a" stroke-width="1"/>
<rect x="434.90000000000003" y="177.6" width="8.600000000000023" height="55.0" fill="#0d0d0d"/>
<line x1="458.2" y1="200.0" x2="458.2" y2="196.5" stroke="#000" stroke-width="1.2"/>
<line x1="456.4" y1="196.5" x2="460.0" y2="196.5" stroke="#000" stroke-width="1.2"/>
<line x1="469.00000000000006" y1="176.9" x2="469.00000000000006" y2="172.5" stroke="#000" stroke-width="1.2"/>
<line x1="467.20000000000005" y1="172.5" x2="470.80000000000007" y2="172.5" stroke="#000" stroke-width="1.2"/>
<rect x="454.4" y="200.5" width="7.600000000000023" height="32.099999999999994" fill="#b2b2b2" stroke="#1a1a1a" stroke-width="1"/>
<rect x="464.70000000000005" y="176.9" width="8.600000000000023" height="55.69999999999999" fill="#0d0d0d"/>
<line x1="359.3" y1="154.0" x2="359.3" y2="233.1" stroke="#000" stroke-width="1.0"/>
<line x1="358.8" y1="232.6" x2="479.6" y2="232.6" stroke="#000" stroke-width="1.0"/>
<line x1="357.3" y1="232.6" x2="359.3" y2="232.6" stroke="#000" stroke-width="0.9"/>
<text x="356.5" y="234.46" font-size="6.0" font-weight="bold" text-anchor="end" fill="#000" stroke="#000" stroke-width="0.05">0</text>
<line x1="357.3" y1="210.5" x2="359.3" y2="210.5" stroke="#000" stroke-width="0.9"/>
<text x="356.5" y="212.36" font-size="6.0" font-weight="bold" text-anchor="end" fill="#000" stroke="#000" stroke-width="0.05">1</text>
<line x1="357.3" y1="187.9" x2="359.3" y2="187.9" stroke="#000" stroke-width="0.9"/>
<text x="356.5" y="189.76" font-size="6.0" font-weight="bold" text-anchor="end" fill="#000" stroke="#000" stroke-width="0.05">2</text>
<line x1="357.3" y1="165.4" x2="359.3" y2="165.4" stroke="#000" stroke-width="0.9"/>
<text x="356.5" y="167.26" font-size="6.0" font-weight="bold" text-anchor="end" fill="#000" stroke="#000" stroke-width="0.05">3</text>
<line x1="374.1" y1="232.6" x2="374.1" y2="234.79999999999998" stroke="#000" stroke-width="0.9"/>
<line x1="403.75" y1="232.6" x2="403.75" y2="234.79999999999998" stroke="#000" stroke-width="0.9"/>
<line x1="433.8" y1="232.6" x2="433.8" y2="234.79999999999998" stroke="#000" stroke-width="0.9"/>
<line x1="463.6" y1="232.6" x2="463.6" y2="234.79999999999998" stroke="#000" stroke-width="0.9"/>
<text x="375.6" y="240.79999999999998" font-size="6.0" font-weight="bold" text-anchor="end" fill="#000" stroke="#000" stroke-width="0.22" transform="rotate(-45 375.6 240.79999999999998)">Control</text>
<text x="405.25" y="240.79999999999998" font-size="6.0" font-weight="bold" text-anchor="end" fill="#000" stroke="#000" stroke-width="0.22" transform="rotate(-45 405.25 240.79999999999998)">5T33MMvt exo</text>
<text x="435.3" y="240.79999999999998" font-size="6.0" font-weight="bold" text-anchor="end" fill="#000" stroke="#000" stroke-width="0.22" transform="rotate(-45 435.3 240.79999999999998)">Naive BMSC exo</text>
<text x="465.1" y="240.79999999999998" font-size="6.0" font-weight="bold" text-anchor="end" fill="#000" stroke="#000" stroke-width="0.22" transform="rotate(-45 465.1 240.79999999999998)">5T33 BMSC exo</text>
<text x="348.0" y="193.0" font-size="6.4" font-weight="bold" text-anchor="middle" fill="#000" stroke="#000" stroke-width="0.22" transform="rotate(-90 348.0 193.0)">Relative Cell Viability</text>
<polyline points="409.2,161.5 409.2,158.9 469.2,158.9 469.2,161.5" fill="none" stroke="#000" stroke-width="1"/>
<path d="M436.55,155.20L436.55,158.00M435.34,155.90L437.76,157.30M435.34,157.30L437.76,155.90M440.40,155.20L440.40,158.00M439.19,155.90L441.61,157.30M439.19,157.30L441.61,155.90M444.25,155.20L444.25,158.00M443.04,155.90L445.46,157.30M443.04,157.30L445.46,155.90" stroke="#000" stroke-width="1.0" fill="none"/>
<polyline points="409.2,167.6 409.2,165.0 439.2,165.0 439.2,167.6" fill="none" stroke="#000" stroke-width="1"/>
<path d="M423.80,160.60L423.80,163.40M422.59,161.30L425.01,162.70M422.59,162.70L425.01,161.30" stroke="#000" stroke-width="1.0" fill="none"/>
<polyline points="396.0,173.6 396.0,171.0 457.0,171.0 457.0,173.6" fill="none" stroke="#000" stroke-width="1"/>
<path d="M421.07,167.50L421.07,170.30M419.86,168.20L422.29,169.60M419.86,169.60L422.29,168.20M424.93,167.50L424.93,170.30M423.71,168.20L426.14,169.60M423.71,169.60L426.14,168.20" stroke="#000" stroke-width="1.0" fill="none"/>
<rect x="477.7" y="157.7" width="8.6" height="3.5" fill="#b2b2b2" stroke="#1a1a1a" stroke-width="1"/>
<rect x="477.2" y="166.2" width="9.6" height="4.5" fill="#0d0d0d"/>
<text x="490.6" y="161.89999999999998" font-size="7.35" font-weight="normal" text-anchor="start" fill="#000" stroke="#000" stroke-width="0.22">24 hours</text>
<text x="490.6" y="170.89999999999998" font-size="7.35" font-weight="normal" text-anchor="start" fill="#000" stroke="#000" stroke-width="0.22">48 hours</text>
<text x="0.5" y="296.4" font-size="11.8" font-weight="bold" text-anchor="start" fill="#000" stroke="#000" stroke-width="0.22">G</text>
<text x="112.5" y="294.0" font-size="8.5" font-weight="bold" text-anchor="middle" fill="#000" stroke="#000" stroke-width="0.22">5T33MMvt</text>
<line x1="54.7" y1="350.4" x2="182.9" y2="350.4" stroke="#111" stroke-width="1.0" stroke-dasharray="2.7,1.9"/>
<rect x="59.800000000000004" y="350.9" width="5.399999999999999" height="37.700000000000045" fill="#b2b2b2" stroke="#1a1a1a" stroke-width="1"/>
<rect x="68.89999999999999" y="350.4" width="6.400000000000006" height="38.200000000000045" fill="#0d0d0d"/>
<line x1="88.0" y1="348.5" x2="88.0" y2="346.5" stroke="#000" stroke-width="1.2"/>
<line x1="86.2" y1="346.5" x2="89.8" y2="346.5" stroke="#000" stroke-width="1.2"/>
<line x1="97.6" y1="350.8" x2="97.6" y2="348.8" stroke="#000" stroke-width="1.2"/>
<line x1="95.8" y1="348.8" x2="99.39999999999999" y2="348.8" stroke="#000" stroke-width="1.2"/>
<rect x="85.3" y="349.0" width="5.400000000000006" height="39.60000000000002" fill="#b2b2b2" stroke="#1a1a1a" stroke-width="1"/>
<rect x="94.39999999999999" y="350.8" width="6.400000000000006" height="37.80000000000001" fill="#0d0d0d"/>
<line x1="113.60000000000001" y1="343.5" x2="113.60000000000001" y2="337.0" stroke="#000" stroke-width="1.2"/>
<line x1="111.80000000000001" y1="337.0" x2="115.4" y2="337.0" stroke="#000" stroke-width="1.2"/>
<line x1="123.2" y1="341.2" x2="123.2" y2="340.2" stroke="#000" stroke-width="1.2"/>
<line x1="121.4" y1="340.2" x2="125.0" y2="340.2" stroke="#000" stroke-width="1.2"/>
<rect x="110.9" y="344.0" width="5.400000000000006" height="44.60000000000002" fill="#b2b2b2" stroke="#1a1a1a" stroke-width="1"/>
<rect x="120.0" y="341.2" width="6.400000000000006" height="47.400000000000034" fill="#0d0d0d"/>
<line x1="139.10000000000002" y1="339.2" x2="139.10000000000002" y2="335.0" stroke="#000" stroke-width="1.2"/>
<line x1="137.3" y1="335.0" x2="140.90000000000003" y2="335.0" stroke="#000" stroke-width="1.2"/>
<line x1="148.7" y1="339.2" x2="148.7" y2="337.7" stroke="#000" stroke-width="1.2"/>
<line x1="146.89999999999998" y1="337.7" x2="150.5" y2="337.7" stroke="#000" stroke-width="1.2"/>
<rect x="136.4" y="339.7" width="5.400000000000006" height="48.900000000000034" fill="#b2b2b2" stroke="#1a1a1a" stroke-width="1"/>
<rect x="145.5" y="339.2" width="6.400000000000006" height="49.400000000000034" fill="#0d0d0d"/>
<line x1="164.60000000000002" y1="321.3" x2="164.60000000000002" y2="307.5" stroke="#000" stroke-width="1.2"/>
<line x1="162.8" y1="307.5" x2="166.40000000000003" y2="307.5" stroke="#000" stroke-width="1.2"/>
<line x1="174.2" y1="318.9" x2="174.2" y2="311.5" stroke="#000" stroke-width="1.2"/>
<line x1="172.39999999999998" y1="311.5" x2="176.0" y2="311.5" stroke="#000" stroke-width="1.2"/>
<rect x="161.9" y="321.8" width="5.400000000000006" height="66.80000000000001" fill="#b2b2b2" stroke="#1a1a1a" stroke-width="1"/>
<rect x="171.0" y="318.9" width="6.400000000000006" height="69.70000000000005" fill="#0d0d0d"/>
<line x1="54.7" y1="304.0" x2="54.7" y2="389.1" stroke="#000" stroke-width="1.0"/>
<line x1="54.2" y1="388.6" x2="182.9" y2="388.6" stroke="#000" stroke-width="1.0"/>
<line x1="52.7" y1="388.6" x2="54.7" y2="388.6" stroke="#000" stroke-width="0.9"/>
<text x="51.900000000000006" y="390.4" font-size="5.8" font-weight="bold" text-anchor="end" fill="#000" stroke="#000" stroke-width="0.05">0.0</text>
<line x1="52.7" y1="369.5" x2="54.7" y2="369.5" stroke="#000" stroke-width="0.9"/>
<text x="51.900000000000006" y="371.3" font-size="5.8" font-weight="bold" text-anchor="end" fill="#000" stroke="#000" stroke-width="0.05">0.5</text>
<line x1="52.7" y1="350.4" x2="54.7" y2="350.4" stroke="#000" stroke-width="0.9"/>
<text x="51.900000000000006" y="352.2" font-size="5.8" font-weight="bold" text-anchor="end" fill="#000" stroke="#000" stroke-width="0.05">1.0</text>
<line x1="52.7" y1="331.2" x2="54.7" y2="331.2" stroke="#000" stroke-width="0.9"/>
<text x="51.900000000000006" y="333.0" font-size="5.8" font-weight="bold" text-anchor="end" fill="#000" stroke="#000" stroke-width="0.05">1.5</text>
<line x1="52.7" y1="311.9" x2="54.7" y2="311.9" stroke="#000" stroke-width="0.9"/>
<text x="51.900000000000006" y="313.7" font-size="5.8" font-weight="bold" text-anchor="end" fill="#000" stroke="#000" stroke-width="0.05">2.0</text>
<line x1="67.3" y1="388.6" x2="67.3" y2="390.8" stroke="#000" stroke-width="0.9"/>
<line x1="92.8" y1="388.6" x2="92.8" y2="390.8" stroke="#000" stroke-width="0.9"/>
<line x1="118.4" y1="388.6" x2="118.4" y2="390.8" stroke="#000" stroke-width="0.9"/>
<line x1="143.9" y1="388.6" x2="143.9" y2="390.8" stroke="#000" stroke-width="0.9"/>
<line x1="169.4" y1="388.6" x2="169.4" y2="390.8" stroke="#000" stroke-width="0.9"/>
<text x="68.89999999999999" y="397.8" font-size="6.3" font-weight="bold" text-anchor="end" fill="#000" stroke="#000" stroke-width="0.22" transform="rotate(-45 68.89999999999999 397.8)">Control</text>
<text x="94.39999999999999" y="397.8" font-size="6.3" font-weight="bold" text-anchor="end" fill="#000" stroke="#000" stroke-width="0.22" transform="rotate(-45 94.39999999999999 397.8)">5T33MMvt exo</text>
<text x="120.0" y="397.8" font-size="6.3" font-weight="bold" text-anchor="end" fill="#000" stroke="#000" stroke-width="0.22" transform="rotate(-45 120.0 397.8)">Naive BMSC exo</text>
<text x="145.5" y="397.8" font-size="6.3" font-weight="bold" text-anchor="end" fill="#000" stroke="#000" stroke-width="0.22" transform="rotate(-45 145.5 397.8)">5T33 BMSC exo</text>
<text x="171.0" y="397.8" font-size="6.3" font-weight="bold" text-anchor="end" fill="#000" stroke="#000" stroke-width="0.22" transform="rotate(-45 171.0 397.8)">10% serum</text>
<text x="40.0" y="346.7" font-size="7.0" font-weight="bold" text-anchor="middle" fill="#000" stroke="#000" stroke-width="0.22" transform="rotate(-90 40.0 346.7)">Relative BrdU-uptake</text>
<polyline points="96.3,306.6 96.3,304.0 149.2,304.0 149.2,306.6" fill="none" stroke="#000" stroke-width="1"/>
<path d="M119.98,299.90L119.98,302.70M118.76,300.60L121.19,302.00M118.76,302.00L121.19,300.60M123.83,299.90L123.83,302.70M122.61,300.60L125.04,302.00M122.61,302.00L125.04,300.60" stroke="#000" stroke-width="1.0" fill="none"/>
<polyline points="96.3,312.40000000000003 96.3,309.8 122.3,309.8 122.3,312.40000000000003" fill="none" stroke="#000" stroke-width="1"/>
<path d="M107.48,306.10L107.48,308.90M106.26,306.80L108.69,308.20M106.26,308.20L108.69,306.80M111.33,306.10L111.33,308.90M110.11,306.80L112.54,308.20M110.11,308.20L112.54,306.80" stroke="#000" stroke-width="1.0" fill="none"/>
<polyline points="85.4,317.8 85.4,315.2 137.7,315.2 137.7,317.8" fill="none" stroke="#000" stroke-width="1"/>
<path d="M108.80,311.50L108.80,314.30M107.59,312.20L110.01,313.60M107.59,313.60L110.01,312.20" stroke="#000" stroke-width="1.0" fill="none"/>
<polyline points="71.3,323.6 71.3,321.0 149.2,321.0 149.2,323.6" fill="none" stroke="#000" stroke-width="1"/>
<path d="M105.55,317.30L105.55,320.10M104.34,318.00L106.76,319.40M104.34,319.40L106.76,318.00M109.40,317.30L109.40,320.10M108.19,318.00L110.61,319.40M108.19,319.40L110.61,318.00M113.25,317.30L113.25,320.10M112.04,318.00L114.46,319.40M112.04,319.40L114.46,318.00" stroke="#000" stroke-width="1.0" fill="none"/>
<polyline points="71.3,329.3 71.3,326.7 122.3,326.7 122.3,329.3" fill="none" stroke="#000" stroke-width="1"/>
<path d="M92.45,322.80L92.45,325.60M91.24,323.50L93.66,324.90M91.24,324.90L93.66,323.50M96.30,322.80L96.30,325.60M95.09,323.50L97.51,324.90M95.09,324.90L97.51,323.50M100.15,322.80L100.15,325.60M98.94,323.50L101.36,324.90M98.94,324.90L101.36,323.50" stroke="#000" stroke-width="1.0" fill="none"/>
<polyline points="61.2,335.1 61.2,332.5 138.7,332.5 138.7,335.1" fill="none" stroke="#000" stroke-width="1"/>
<path d="M97.30,328.60L97.30,331.40M96.09,329.30L98.51,330.70M96.09,330.70L98.51,329.30" stroke="#000" stroke-width="1.0" fill="none"/>
<rect x="191.4" y="308.0" width="9.0" height="3.5999999999999996" fill="#b2b2b2" stroke="#1a1a1a" stroke-width="1"/>
<rect x="190.9" y="316.8" width="10.0" height="4.6" fill="#0d0d0d"/>
<text x="204.70000000000002" y="312.3" font-size="7.35" font-weight="normal" text-anchor="start" fill="#000" stroke="#000" stroke-width="0.22">24 hours</text>
<text x="204.70000000000002" y="321.6" font-size="7.35" font-weight="normal" text-anchor="start" fill="#000" stroke="#000" stroke-width="0.22">48 hours</text>
<text x="287.9" y="296.6" font-size="11.8" font-weight="bold" text-anchor="start" fill="#000" stroke="#000" stroke-width="0.22">H</text>
<text x="375.0" y="294.0" font-size="8.5" font-weight="bold" text-anchor="middle" fill="#000" stroke="#000" stroke-width="0.22">5T33MMvv</text>
<line x1="318.3" y1="350.4" x2="446.2" y2="350.4" stroke="#111" stroke-width="1.0" stroke-dasharray="2.7,1.9"/>
<rect x="323.15" y="350.9" width="5.600000000000023" height="37.900000000000034" fill="#b2b2b2" stroke="#1a1a1a" stroke-width="1"/>
<rect x="332.25" y="350.4" width="6.600000000000023" height="38.400000000000034" fill="#0d0d0d"/>
<line x1="351.59999999999997" y1="343.8" x2="351.59999999999997" y2="330.6" stroke="#000" stroke-width="1.2"/>
<line x1="349.79999999999995" y1="330.6" x2="353.4" y2="330.6" stroke="#000" stroke-width="1.2"/>
<line x1="361.2" y1="345.4" x2="361.2" y2="335.3" stroke="#000" stroke-width="1.2"/>
<line x1="359.4" y1="335.3" x2="363.0" y2="335.3" stroke="#000" stroke-width="1.2"/>
<rect x="348.79999999999995" y="344.3" width="5.600000000000023" height="44.5" fill="#b2b2b2" stroke="#1a1a1a" stroke-width="1"/>
<rect x="357.9" y="345.4" width="6.600000000000023" height="43.400000000000034" fill="#0d0d0d"/>
<line x1="377.15" y1="337.9" x2="377.15" y2="335.2" stroke="#000" stroke-width="1.2"/>
<line x1="375.34999999999997" y1="335.2" x2="378.95" y2="335.2" stroke="#000" stroke-width="1.2"/>
<line x1="386.75" y1="347.5" x2="386.75" y2="338.8" stroke="#000" stroke-width="1.2"/>
<line x1="384.95" y1="338.8" x2="388.55" y2="338.8" stroke="#000" stroke-width="1.2"/>
<rect x="374.34999999999997" y="338.4" width="5.600000000000023" height="50.400000000000034" fill="#b2b2b2" stroke="#1a1a1a" stroke-width="1"/>
<rect x="383.45" y="347.5" width="6.600000000000023" height="41.30000000000001" fill="#0d0d0d"/>
<line x1="402.9" y1="336.4" x2="402.9" y2="334.2" stroke="#000" stroke-width="1.2"/>
<line x1="401.09999999999997" y1="334.2" x2="404.7" y2="334.2" stroke="#000" stroke-width="1.2"/>
<line x1="412.5" y1="346.5" x2="412.5" y2="341.3" stroke="#000" stroke-width="1.2"/>
<line x1="410.7" y1="341.3" x2="414.3" y2="341.3" stroke="#000" stroke-width="1.2"/>
<rect x="400.09999999999997" y="336.9" width="5.600000000000023" height="51.900000000000034" fill="#b2b2b2" stroke="#1a1a1a" stroke-width="1"/>
<rect x="409.2" y="346.5" width="6.600000000000023" height="42.30000000000001" fill="#0d0d0d"/>
<line x1="427.95" y1="325.0" x2="427.95" y2="322.5" stroke="#000" stroke-width="1.2"/>
<line x1="426.15" y1="322.5" x2="429.75" y2="322.5" stroke="#000" stroke-width="1.2"/>
<line x1="437.55" y1="330.2" x2="437.55" y2="318.8" stroke="#000" stroke-width="1.2"/>
<line x1="435.75" y1="318.8" x2="439.35" y2="318.8" stroke="#000" stroke-width="1.2"/>
<rect x="425.15" y="325.5" width="5.600000000000023" height="63.30000000000001" fill="#b2b2b2" stroke="#1a1a1a" stroke-width="1"/>
<rect x="434.25" y="330.2" width="6.600000000000023" height="58.60000000000002" fill="#0d0d0d"/>
<line x1="318.3" y1="304.1" x2="318.3" y2="389.3" stroke="#000" stroke-width="1.0"/>
<line x1="317.8" y1="388.8" x2="446.2" y2="388.8" stroke="#000" stroke-width="1.0"/>
<line x1="316.3" y1="388.8" x2="318.3" y2="388.8" stroke="#000" stroke-width="0.9"/>
<text x="315.5" y="390.6" font-size="5.8" font-weight="bold" text-anchor="end" fill="#000" stroke="#000" stroke-width="0.05">0.0</text>
<line x1="316.3" y1="369.7" x2="318.3" y2="369.7" stroke="#000" stroke-width="0.9"/>
<text x="315.5" y="371.5" font-size="5.8" font-weight="bold" text-anchor="end" fill="#000" stroke="#000" stroke-width="0.05">0.5</text>
<line x1="316.3" y1="350.4" x2="318.3" y2="350.4" stroke="#000" stroke-width="0.9"/>
<text x="315.5" y="352.2" font-size="5.8" font-weight="bold" text-anchor="end" fill="#000" stroke="#000" stroke-width="0.05">1.0</text>
<line x1="316.3" y1="331.2" x2="318.3" y2="331.2" stroke="#000" stroke-width="0.9"/>
<text x="315.5" y="333.0" font-size="5.8" font-weight="bold" text-anchor="end" fill="#000" stroke="#000" stroke-width="0.05">1.5</text>
<line x1="316.3" y1="311.8" x2="318.3" y2="311.8" stroke="#000" stroke-width="0.9"/>
<text x="315.5" y="313.6" font-size="5.8" font-weight="bold" text-anchor="end" fill="#000" stroke="#000" stroke-width="0.05">2.0</text>
<line x1="330.75" y1="388.8" x2="330.75" y2="391.0" stroke="#000" stroke-width="0.9"/>
<line x1="356.4" y1="388.8" x2="356.4" y2="391.0" stroke="#000" stroke-width="0.9"/>
<line x1="381.95" y1="388.8" x2="381.95" y2="391.0" stroke="#000" stroke-width="0.9"/>
<line x1="407.7" y1="388.8" x2="407.7" y2="391.0" stroke="#000" stroke-width="0.9"/>
<line x1="432.75" y1="388.8" x2="432.75" y2="391.0" stroke="#000" stroke-width="0.9"/>
<text x="332.35" y="398.0" font-size="6.3" font-weight="bold" text-anchor="end" fill="#000" stroke="#000" stroke-width="0.22" transform="rotate(-45 332.35 398.0)">Control</text>
<text x="358.0" y="398.0" font-size="6.3" font-weight="bold" text-anchor="end" fill="#000" stroke="#000" stroke-width="0.22" transform="rotate(-45 358.0 398.0)">5T33MMvt exo</text>
<text x="383.55" y="398.0" font-size="6.3" font-weight="bold" text-anchor="end" fill="#000" stroke="#000" stroke-width="0.22" transform="rotate(-45 383.55 398.0)">Naive BMSC exo</text>
<text x="409.3" y="398.0" font-size="6.3" font-weight="bold" text-anchor="end" fill="#000" stroke="#000" stroke-width="0.22" transform="rotate(-45 409.3 398.0)">5T33 BMSC exo</text>
<text x="434.35" y="398.0" font-size="6.3" font-weight="bold" text-anchor="end" fill="#000" stroke="#000" stroke-width="0.22" transform="rotate(-45 434.35 398.0)">10% serum</text>
<text x="302.5" y="346.7" font-size="7.0" font-weight="bold" text-anchor="middle" fill="#000" stroke="#000" stroke-width="0.22" transform="rotate(-90 302.5 346.7)">Relative BrdU-uptake</text>
<polyline points="324.9,319.5 324.9,316.9 402.2,316.9 402.2,319.5" fill="none" stroke="#000" stroke-width="1"/>
<path d="M356.85,312.70L356.85,315.50M355.64,313.40L358.06,314.80M355.64,314.80L358.06,313.40M360.70,312.70L360.70,315.50M359.49,313.40L361.91,314.80M359.49,314.80L361.91,313.40M364.55,312.70L364.55,315.50M363.34,313.40L365.76,314.80M363.34,314.80L365.76,313.40" stroke="#000" stroke-width="1.0" fill="none"/>
<polyline points="324.9,328.1 324.9,325.5 376.3,325.5 376.3,328.1" fill="none" stroke="#000" stroke-width="1"/>
<path d="M343.55,321.50L343.55,324.30M342.34,322.20L344.76,323.60M342.34,323.60L344.76,322.20M347.40,321.50L347.40,324.30M346.19,322.20L348.61,323.60M346.19,323.60L348.61,322.20M351.25,321.50L351.25,324.30M350.04,322.20L352.46,323.60M350.04,323.60L352.46,322.20" stroke="#000" stroke-width="1.0" fill="none"/>
<rect x="454.3" y="307.7" width="9.2" height="4.0" fill="#b2b2b2" stroke="#1a1a1a" stroke-width="1"/>
<rect x="453.8" y="316.7" width="10.2" height="5.0" fill="#0d0d0d"/>
<text x="467.8" y="312.4" font-size="7.35" font-weight="normal" text-anchor="start" fill="#000" stroke="#000" stroke-width="0.22">24 hours</text>
<text x="467.8" y="321.9" font-size="7.35" font-weight="normal" text-anchor="start" fill="#000" stroke="#000" stroke-width="0.22">48 hours</text>
</svg>
</body></html>
